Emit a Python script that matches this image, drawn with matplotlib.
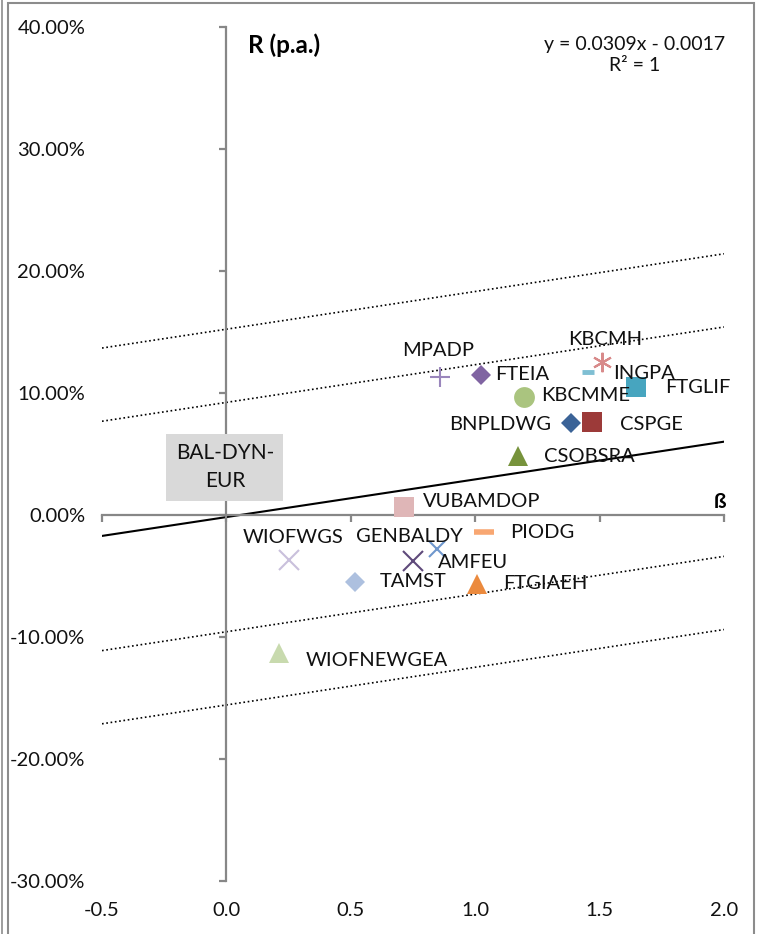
import numpy as np
import matplotlib
matplotlib.use("Agg")
import matplotlib.pyplot as plt
from matplotlib.ticker import PercentFormatter, FormatStrFormatter
from matplotlib.patches import Rectangle
from matplotlib.lines import Line2D

plt.rcParams["font.family"] = ["Lato", "DejaVu Sans"]
plt.rcParams["axes.unicode_minus"] = False

# fund data: beta vs. annual return
names = ["MPADP", "FTEIA", "KBCMME", "KBCMH", "INGPA", "FTGLIF", "BNPLDWG", "CSPGE",
         "CSOBSRA", "VUBAMDOP", "PIODG", "WIOFWGS", "GENBALDY", "AMFEU", "TAMST",
         "FTGIAEH", "WIOFNEWGEA"]
betas = [0.860, 1.024, 1.198, 1.508, 1.454, 1.645, 1.387, 1.468,
         1.173, 0.712, 1.035, 0.251, 0.750, 0.846, 0.515,
         1.007, 0.213]
returns = [0.1133, 0.1150, 0.0967, 0.1257, 0.1175, 0.1052, 0.0757, 0.0762,
           0.0485, 0.0068, -0.0137, -0.0369, -0.0374, -0.0281, -0.0546,
           -0.0566, -0.1134]

# trend line and parallel bands
slope = 0.0309
intercept = -0.0017
band_offsets = [0.154, 0.094, -0.094, -0.154]

x_ticks = [-0.5, 0.0, 0.5, 1.0, 1.5, 2.0]
y_ticks = [-0.3, -0.2, -0.1, 0.0, 0.1, 0.2, 0.3, 0.4]

# marker styles: (marker, colour, size, edge width)
styles = [
    ("+", "#9A86BC", 14, 1.5),
    ("D", "#8064A2", 10.5, 0),
    ("o", "#AAC47F", 15, 0),
    ((6, 2, 0), "#D88A8A", 14, 1.5),
    ("_", "#7FBFD3", 8, 3.5),
    ("s", "#47A5BF", 15, 0),
    ("D", "#3B6397", 10.5, 0),
    ("s", "#9C3A39", 15, 0),
    ("^", "#77933C", 15, 0),
    ("s", "#DFB6B7", 14.5, 0),
    ("_", "#F8A772", 14, 4),
    ("x", "#C9C0DC", 14, 1.5),
    ("x", "#5F4A7B", 14, 1.5),
    ("x", "#6F97CD", 12, 1.5),
    ("D", "#ADC0DF", 10.5, 0),
    ("^", "#EB8A3E", 15, 0),
    ("^", "#C8DAAE", 15, 0),
]

# label offsets in pixels (dx, dy up) and horizontal alignment
label_pos = [
    (-2, 26, "center"), (14, 0, "left"), (17, 2, "left"), (4, 22, "center"),
    (25, -2, "left"), (29, -1, "left"), (-20, -2, "right"), (28, -2, "left"),
    (26, -1, "left"), (19, 5, "left"), (26, -1, "left"), (4, 23, "center"),
    (-4, 24, "center"), (1, -13, "left"), (25, 0, "left"), (26, 1, "left"),
    (26, -7, "left"),
]

fig = plt.figure(figsize=(7.69, 9.34), dpi=100)
rect = [102 / 769, 1 - 881 / 934, 622 / 769, 854 / 934]

# axes that only carries the tick labels at the outer edges
ax_lab = fig.add_axes(rect)
ax_lab.set_xlim(-0.5, 2.0)
ax_lab.set_ylim(-0.3, 0.4)
for s in ax_lab.spines.values():
    s.set_visible(False)
ax_lab.set_xticks(x_ticks)
ax_lab.set_yticks(y_ticks)
ax_lab.yaxis.set_major_formatter(PercentFormatter(xmax=1, decimals=2))
ax_lab.xaxis.set_major_formatter(FormatStrFormatter("%.1f"))
ax_lab.tick_params(axis="y", length=0, pad=12, labelsize=14.5, labelcolor="#111111")
ax_lab.tick_params(axis="x", length=0, pad=15, labelsize=14.5, labelcolor="#111111")

# main axes with axis lines crossing at zero
ax = fig.add_axes(rect)
ax.set_facecolor("none")
ax.set_xlim(-0.5, 2.0)
ax.set_ylim(-0.3, 0.4)
ax.spines["left"].set_position(("data", 0))
ax.spines["bottom"].set_position(("data", 0))
ax.spines["right"].set_visible(False)
ax.spines["top"].set_visible(False)
for side in ["left", "bottom"]:
    ax.spines[side].set_color("#878787")
    ax.spines[side].set_linewidth(1.6)
ax.set_xticks(x_ticks)
ax.set_yticks(y_ticks)
ax.tick_params(direction="out", length=5, width=1.6, color="#878787",
               labelleft=False, labelbottom=False)

# lines
xs = np.array([-0.5, 2.0])
ax.plot(xs, slope * xs + intercept, color="black", lw=1.5, zorder=2)
for off in band_offsets:
    ax.plot(xs, slope * xs + intercept + off, color="black", lw=1.2,
            linestyle=(0, (1, 1.6)), zorder=2)

# points and labels
for name, b, r, st, lp in zip(names, betas, returns, styles, label_pos):
    mk, col, ms, mew = st
    ax.plot(b, r, marker=mk, color=col, markersize=ms, markeredgewidth=mew,
            linestyle="none", zorder=3)
    dx, dy, ha = lp
    ax.annotate(name, (b, r), xytext=(dx * 0.72, dy * 0.72), textcoords="offset points",
                ha=ha, va="center", fontsize=14.5, color="#111111", zorder=4)

# texts
ax.text(0.085, 0.385, "R (p.a.)", fontsize=17.5, fontweight="bold", ha="left", va="center")
ax.text(1.984, 0.011, "ß", fontsize=15, fontweight="bold", ha="center", va="center")
ax.text(1.64, 0.377, "y = 0.0309x - 0.0017\nR² = 1", fontsize=14, ha="center",
        va="center", linespacing=1.25, color="#111111")
ax.text(-0.006, 0.039, "BAL-DYN-\nEUR", fontsize=15, ha="center", va="center",
        linespacing=1.5, color="#111111",
        bbox=dict(boxstyle="square,pad=0.45", fc="#D9D9D9", ec="none"))

# chart border
fig.add_artist(Rectangle((8 / 769, -0.01), 746 / 769, 1.01 - 3 / 934,
                         transform=fig.transFigure, fill=False, ec="#8C8C8C", lw=1.5))
fig.add_artist(Line2D([2 / 769, 2 / 769], [0, 1], transform=fig.transFigure,
                      color="#8C8C8C", lw=1.2))

fig.savefig("out.png", dpi=100)
